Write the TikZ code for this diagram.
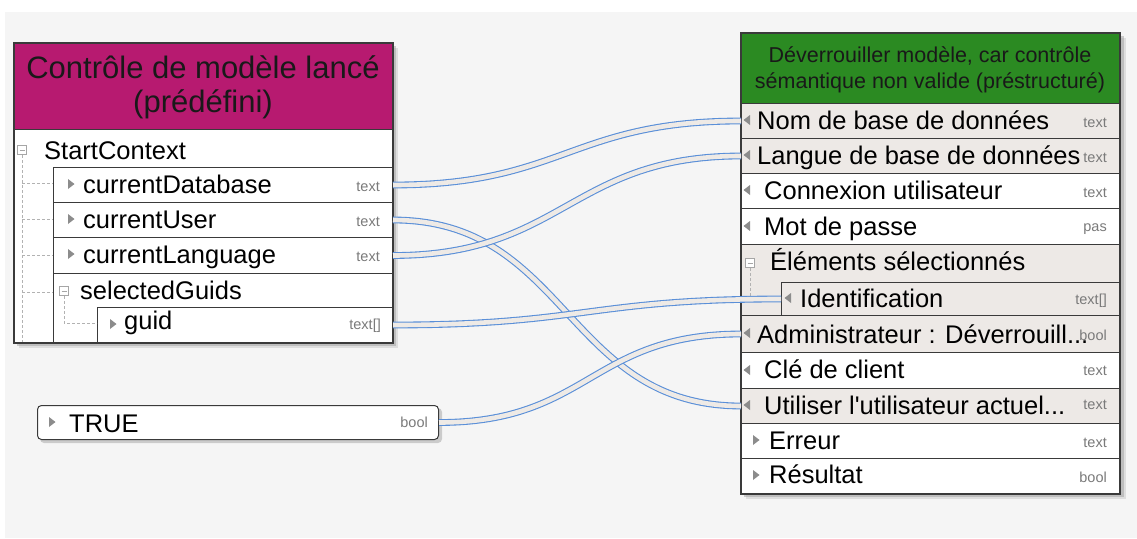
\documentclass[tikz,border=0pt]{standalone}
\usepackage{fontspec}
\setmainfont{Liberation Sans}
\definecolor{bgc}{HTML}{F5F5F5}
\definecolor{magh}{HTML}{B71A70}
\definecolor{grnh}{HTML}{2B8A22}
\definecolor{rowbg}{HTML}{EDE9E6}
\definecolor{linkblue}{HTML}{5A8FD8}
\definecolor{linkfill}{HTML}{EEEAE6}
\definecolor{tric}{HTML}{8C8C8C}
\definecolor{bord}{HTML}{3A3A3A}
\definecolor{typc}{HTML}{7A7A7A}
\definecolor{shd}{HTML}{9A9A9A}
\newcommand\rowfont{\fontsize{25.5}{28}\selectfont}
\newcommand\typfont{\fontsize{14.5}{16}\selectfont}
\tikzset{
  box/.style={draw=bord, line width=1.2pt, fill=white, anchor=north west, inner sep=0pt, minimum width=378},
  hdrbox/.style={draw=bord, line width=1pt, anchor=north west, inner sep=0pt, minimum width=378},
  rowbox/.style={draw=bord, line width=1pt, fill=white, anchor=north west, inner sep=0pt},
  beige/.style={fill=rowbg},
  lbl/.style={anchor=base west, inner sep=0pt, font=\rowfont, text=black},
  typ/.style={anchor=base east, inner sep=0pt, font=\typfont, text=typc},
  hdrL/.style={anchor=base, inner sep=0pt, font=\fontsize{31}{34}\selectfont, text=black!90},
  hdrR/.style={anchor=base, inner sep=0pt, font=\fontsize{21.5}{24}\selectfont, text=black!90},
  conn/.style={draw=linkblue, double=linkfill, double distance=4.6pt, line width=1.1pt},
  tree/.style={draw=gray!60, dashed, dash pattern=on 3pt off 2pt, line width=0.8pt},
  shadowbox/.style={fill=shd, opacity=0.45},
  pics/triR/.style={code={\fill[tric] (-3,-5) -- (3.5,0) -- (-3,5) -- cycle;}},
  pics/triL/.style={code={\fill[tric] (3,-5) -- (-3.5,0) -- (3,5) -- cycle;}},
  pics/collapse/.style={code={\draw[gray!70, fill=white, line width=0.7pt] (-4.5,-4.5) rectangle (4.5,4.5); \draw[gray!70, line width=0.8pt] (-2.5,0) -- (2.5,0);}}
}
\begin{document}
\begin{tikzpicture}[x=1pt,y=-1pt]
\useasboundingbox (0,0) rectangle (1137,538);
\fill[white] (0,0) rectangle (1137,538);
\fill[bgc] (5,12) rectangle (1137,538);

% ---------------- left box ----------------
\fill[shadowbox] (17,46) rectangle (396,346);
\fill[shadowbox, opacity=0.25] (19,48) rectangle (398,348);
\node[box, minimum height=299] (L) at (14,43) {};
\node[hdrbox, fill=magh, minimum height=86] (Lh) at (14,43) {};
\node[hdrL] (hl1) at (203,78) {Contrôle de modèle lancé};
\node[hdrL] (hl2) at (203,112) {(prédéfini)};

\node[rowbox, minimum width=339, minimum height=35] (cdb) at (53,167) {};
\node[rowbox, minimum width=339, minimum height=35] (cu) at (53,202) {};
\node[rowbox, minimum width=339, minimum height=36] (cl) at (53,237) {};
\node[rowbox, minimum width=339, minimum height=69] (sg) at (53,273) {};
\node[rowbox, minimum width=295, minimum height=35] (guid) at (97,307) {};

\draw[tree] (22,155) -- (22,342);
\foreach \yy in {183,219,255,292} \draw[tree] (22,\yy) -- (53,\yy);
\draw[tree] (64,296) -- (64,323) -- (97,323);
\pic at (22,150) {collapse};
\pic at (64,291) {collapse};

\node[lbl] (tstart) at (44,159) {StartContext};
\pic at (71,184) {triR};
\node[lbl] (tcdb) at (83,193) {currentDatabase};
\node[typ] (ycdb) at (380,191) {text};
\pic at (71,219) {triR};
\node[lbl] (tcu) at (83,228) {currentUser};
\node[typ] (ycu) at (380,226) {text};
\pic at (71,254) {triR};
\node[lbl] (tcl) at (83,263) {currentLanguage};
\node[typ] (ycl) at (380,261) {text};
\node[lbl] (tsg) at (80,299) {selectedGuids};
\pic at (113,324) {triR};
\node[lbl] (tguid) at (124,329) {guid};
\node[typ] (yguid) at (381,329) {text[]};
\draw[bord, line width=1.2pt] (L.north west) rectangle (L.south east);

% ---------------- TRUE box ----------------
\fill[shadowbox, rounded corners=4pt] (40,408) rectangle (442,443);
\node[draw=bord, line width=1pt, fill=white, rounded corners=4pt, anchor=north west, inner sep=0pt, minimum width=401, minimum height=34] (T) at (37,405) {};
\pic at (52,422) {triR};
\node[lbl] (ttrue) at (69,432) {TRUE};
\node[typ] (ytrue) at (428,427) {bool};

% ---------------- right box ----------------
\fill[shadowbox] (744,36) rectangle (1124,497);
\fill[shadowbox, opacity=0.25] (746,38) rectangle (1126,499);
\node[box, minimum height=460] (R) at (741,33) {};
\node[hdrbox, fill=grnh, minimum height=70] (Rh) at (741,33) {};
\node[hdrR] (hr1) at (930,62) {Déverrouiller modèle, car contrôle};
\node[hdrR] (hr2) at (930,88) {sémantique non valide (préstructuré)};

\node[rowbox, beige, minimum width=378, minimum height=35] (nom) at (741,103) {};
\node[rowbox, beige, minimum width=378, minimum height=35] (langue) at (741,138) {};
\node[rowbox, minimum width=378, minimum height=35] (cnx) at (741,173) {};
\node[rowbox, minimum width=378, minimum height=36] (mdp) at (741,208) {};
\node[rowbox, beige, minimum width=378, minimum height=71] (elem) at (741,244) {};
\node[rowbox, beige, minimum width=338, minimum height=33] (ident) at (781,282) {};
\node[rowbox, beige, minimum width=378, minimum height=37] (admin) at (741,315) {};
\node[rowbox, minimum width=378, minimum height=36] (cle) at (741,352) {};
\node[rowbox, beige, minimum width=378, minimum height=35] (util) at (741,388) {};
\node[rowbox, minimum width=378, minimum height=35] (err) at (741,423) {};
\node[rowbox, minimum width=378, minimum height=35] (res) at (741,458) {};

\draw[tree] (750,268) -- (750,298) -- (781,298);
\pic at (750,263) {collapse};

\pic at (747,120) {triL};
\node[lbl] (tnom) at (757,129) {Nom de base de données};
\node[typ] (ynom) at (1107,127) {text};
\pic at (747,155) {triL};
\node[lbl] (tlangue) at (757,164) {Langue de base de données};
\node[typ] (ylangue) at (1107,162) {text};
\pic at (747,190) {triL};
\node[lbl] (tcnx) at (764,199) {Connexion utilisateur};
\node[typ] (ycnx) at (1107,197) {text};
\pic at (747,226) {triL};
\node[lbl] (tmdp) at (764,235) {Mot de passe};
\node[typ] (ymdp) at (1107,231) {pas};
\node[lbl] (telem) at (770,270) {Éléments sélectionnés};
\pic at (788,298) {triL};
\node[lbl] (tident) at (800,307) {Identification};
\node[typ] (yident) at (1107,304) {text[]};
\pic at (747,333) {triL};
\node[lbl] (tadmin) at (757,343) {Administrateur : Déverrouill...};
\node[typ] (yadmin) at (1107,340) {bool};
\pic at (747,370) {triL};
\node[lbl] (tcle) at (764,378) {Clé de client};
\node[typ] (ycle) at (1107,375) {text};
\pic at (747,405) {triL};
\node[lbl] (tutil) at (764,414) {Utiliser l\textquotesingle utilisateur actuel...};
\node[typ] (yutil) at (1107,409) {text};
\pic at (756,440) {triR};
\node[lbl] (terr) at (769,449) {Erreur};
\node[typ] (yerr) at (1107,447) {text};
\pic at (756,475) {triR};
\node[lbl] (tres) at (769,483) {Résultat};
\node[typ] (yres) at (1107,482) {bool};
\draw[bord, line width=1.2pt] (R.north west) rectangle (R.south east);

% ---------------- connectors ----------------
\draw[conn] (cdb.east) .. controls +(170,0) and +(-170,0) .. (nom.west);
\draw[conn] (cu.east) .. controls +(175,0) and +(-175,0) .. (util.west);
\draw[conn] (cl.east) .. controls +(170,0) and +(-170,0) .. (langue.west);
\draw[conn] (guid.east) .. controls +(190,0) and +(-190,0) .. (ident.west);
\draw[conn] (T.east) .. controls +(150,0) and +(-150,0) .. (admin.west);
\end{tikzpicture}
\end{document}
